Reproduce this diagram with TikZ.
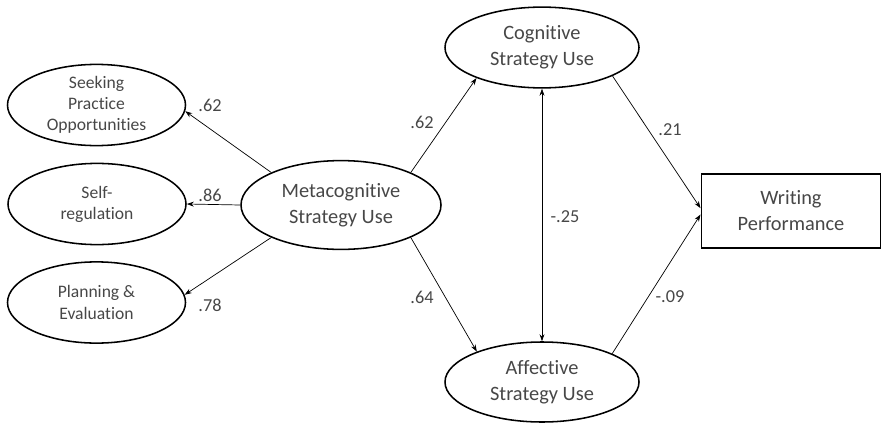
\documentclass[tikz,border=0pt]{standalone}
\usepackage{fontspec}
\setmainfont[Ligatures={NoCommon,NoRequired}]{Carlito}
\usepackage{tikz}
\usetikzlibrary{arrows.meta,shapes.geometric}
\tikzset{
	latent/.style={ellipse, draw=black, line width=1.1pt, inner sep=0pt, text=black!72, align=center},
	small latent/.style={latent, minimum width=4.45cm, minimum height=2.03cm, font=\fontsize{12.5}{15}\selectfont},
	big latent/.style={latent, font=\fontsize{14.5}{18.5}\selectfont},
	observed/.style={rectangle, draw=black, line width=1.4pt, inner sep=0pt, text=black!72, align=center, font=\fontsize{14.5}{18.5}\selectfont},
	path/.style={-{Stealth[length=5pt,width=3.5pt]}, line width=0.5pt},
	coef/.style={text=black!72, font=\fontsize{13}{15}\selectfont}
}

\begin{document}
\begin{tikzpicture}
				\useasboundingbox (0,0) rectangle (22.075,10.55);
				
				\node[small latent] (seek) at (2.4125,7.925) {Seeking\\Practice\\Opportunities};
				\node[small latent] (selfreg) at (2.425,5.45) {Self-\\regulation};
				\node[small latent] (plan) at (2.4125,2.9875) {Planning \&\\Evaluation};
				
				\node[big latent, minimum width=5cm, minimum height=2.22cm] (meta) at (8.525,5.425) {Metacognitive\\Strategy Use};
				\node[big latent, minimum width=4.85cm, minimum height=2.02cm] (cog) at (13.55,9.3625) {Cognitive\\Strategy Use};
				\node[big latent, minimum width=4.85cm, minimum height=2.0cm] (aff) at (13.55,1.0) {Affective\\Strategy Use};
				
				\node[observed, minimum width=4.475cm, minimum height=1.85cm] (wp) at (19.775,5.275) {Writing\\Performance};
				
				\draw[path] (meta.155) -- (seek.-4);
				\draw[path] (meta.west) -- (selfreg.east);
				\draw[path] (meta.205) -- (plan.5);
				
				\draw[path] (meta.25) -- (cog.205);
				\draw[path] (meta.-25) -- (aff.155);
				\draw[path, {Stealth[length=5pt,width=3.5pt]}-{Stealth[length=5pt,width=3.5pt]}] (cog.south) -- (aff.north);
				
				\draw[path] (cog.-22) -- ([yshift=2pt]wp.west);
				\draw[path] (aff.22) -- ([yshift=-2.5pt]wp.west);
				
				\node[coef] (l1) at (5.25,7.925) {.62};
				\node[coef] (l2) at (5.25,5.675) {.86};
				\node[coef] (l3) at (5.25,2.925) {.78};
				\node[coef] (l4) at (10.55,7.5) {.62};
				\node[coef] (l5) at (10.55,3.125) {.64};
				\node[coef] (l6) at (14.125,5.125) {-.25};
				\node[coef] (l7) at (16.75,7.3) {.21};
				\node[coef] (l8) at (16.75,3.125) {-.09};
			\end{tikzpicture}
\end{document}
